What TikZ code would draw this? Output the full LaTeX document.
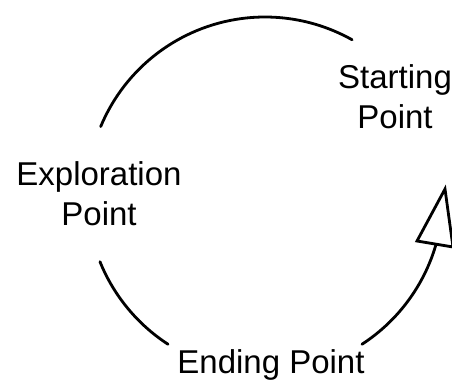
\documentclass[tikz,border=0pt]{standalone}
\usepackage{fontspec}
\setmainfont{Liberation Sans}
\begin{document}
\begin{tikzpicture}[x=1pt,y=1pt,
  curve/.style={line width=2.8pt,line cap=round},
  lbl/.style={font=\fontsize{33}{40}\selectfont,align=center,inner sep=0pt,anchor=base}]
\useasboundingbox (0,0) rectangle (452,381);
\coordinate (c) at (265,186);
% labels (base anchor = baseline of last line)
\node[lbl] (start) at (395,253) {Starting\\Point};
\node[lbl] (explore) at (99,156) {Exploration\\Point};
\node[lbl] (ending) at (271,8) {Ending Point};
% arcs
\draw[curve] ([shift={(157.4:178)}]c) arc[start angle=157.4, end angle=60.7, radius=178];
\draw[curve] ([shift={(202:178)}]c) arc[start angle=202, end angle=237, radius=178];
\draw[curve] ([shift={(303:178)}]c) arc[start angle=303, end angle=344, radius=178];
% open triangle arrowhead
\coordinate (tip) at (445,192);
\coordinate (bl) at (417,140);
\coordinate (br) at (453,134);
\draw[line width=2.8pt,line join=miter,fill=white] (tip) -- (bl) -- (br) -- cycle;
\end{tikzpicture}
\end{document}
